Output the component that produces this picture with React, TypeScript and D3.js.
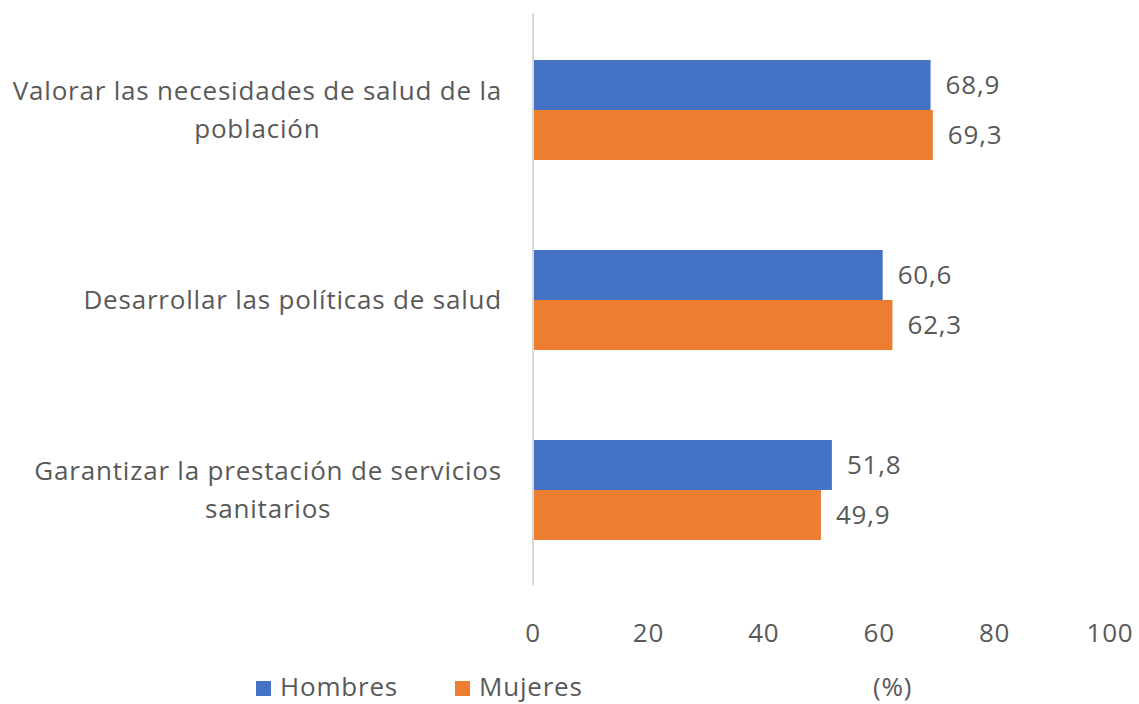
import React from "react";
import * as d3 from "d3";

const categories = [
  ["Valorar las necesidades de salud de la", "población"],
  ["Desarrollar las políticas de salud"],
  ["Garantizar la prestación de servicios", "sanitarios"],
];
const seriesNames = ["Hombres", "Mujeres"];
const hombres = [68.9, 60.6, 51.8];
const mujeres = [69.3, 62.3, 49.9];
const ticks = [0, 20, 40, 60, 80, 100];
const colors = ["#4472C4", "#ED7D31"];

const W = 1139;
const H = 704;
const FONT = "'Open Sans', Lato, sans-serif";
const TXT = "#595959";
const FS = 26;
const LS = 0.8;

let ctx: CanvasRenderingContext2D | null = null;
function measure(s: string) {
  if (!ctx) {
    const c = document.createElement("canvas");
    ctx = c.getContext("2d");
  }
  if (!ctx) return s.length * FS * 0.5;
  ctx.font = `${FS}px 'Open Sans', Lato, sans-serif`;
  return ctx.measureText(s).width + s.length * LS;
}

export default function App() {
  const x = d3.scaleLinear().domain([0, 100]).range([533, 1110]);
  const y = d3
    .scaleBand<number>()
    .domain([0, 1, 2])
    .range([15, 585])
    .paddingInner(0.4737)
    .paddingOuter(0.2368);
  const sub = d3.scaleBand<number>().domain([0, 1]).range([0, y.bandwidth()]);
  const series = [hombres, mujeres];
  const fmt = (v: number) => v.toFixed(1).replace(".", ",");
  const right = 502;

  return (
    <svg
      width={W}
      height={H}
      style={{ position: "absolute", left: 0, top: 0, background: "#fff" }}
      fontFamily={FONT}
      letterSpacing={LS}
    >
      {categories.map((lines, i) => {
        const cy = (y(i) as number) + y.bandwidth() / 2;
        const lh = 38;
        const y0 = cy - ((lines.length - 1) * lh) / 2;
        const maxW = Math.max(...lines.map(measure));
        const cx = right - maxW / 2;
        return (
          <text key={i} textAnchor="middle" fontSize={FS} fill={TXT}>
            {lines.map((l, j) => (
              <tspan key={j} x={cx} y={y0 + j * lh} dy="0.35em">
                {l}
              </tspan>
            ))}
          </text>
        );
      })}
      {series.map((vals, s) =>
        vals.map((v, i) => {
          const by = (y(i) as number) + (sub(s) as number);
          return (
            <g key={`${s}-${i}`}>
              <rect
                x={x(0) + 1}
                y={by}
                width={x(v) - x(0) - 1}
                height={sub.bandwidth()}
                fill={colors[s]}
              />
              <text
                x={x(v) + 15}
                y={by + sub.bandwidth() / 2}
                dy="0.35em"
                fontSize={FS}
                fill={TXT}
              >
                {fmt(v)}
              </text>
            </g>
          );
        })
      )}
      <line x1={x(0)} x2={x(0)} y1={13} y2={585} stroke="#D9D9D9" strokeWidth={2} />
      {ticks.map((t) => (
        <text
          key={t}
          x={x(t)}
          y={633}
          dy="0.35em"
          textAnchor="middle"
          fontSize={FS}
          fill={TXT}
        >
          {t}
        </text>
      ))}
      {seriesNames.map((n, i) => {
        const lx = [256, 455][i];
        return (
          <g key={n}>
            <rect x={lx} y={681} width={15} height={15} fill={colors[i]} />
            <text x={lx + 24} y={687} dy="0.35em" fontSize={FS} fill={TXT}>
              {n}
            </text>
          </g>
        );
      })}
      <text x={873} y={687} dy="0.35em" fontSize={FS} fill={TXT}>
        (%)
      </text>
    </svg>
  );
}
